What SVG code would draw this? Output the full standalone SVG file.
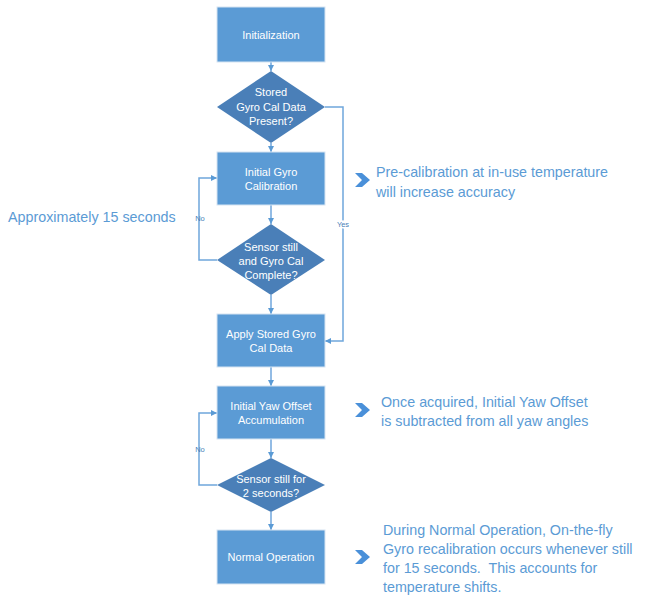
<svg xmlns="http://www.w3.org/2000/svg" width="654" height="598" viewBox="0 0 654 598">
<defs>
<style>
.box{fill:#5b9bd5;stroke:#d6e4f2;stroke-width:1}
.dia{fill:#4a7fb8}
.nt{font-family:"Liberation Sans",Arial,sans-serif;font-size:11px;fill:#ffffff;text-anchor:middle}
.ln{fill:none;stroke:#6fa6dc;stroke-width:1.5}
.lb{font-family:"Liberation Sans",Arial,sans-serif;font-size:7.5px;fill:#4a7fb8;text-anchor:middle}
.an{font-family:"Liberation Sans",Arial,sans-serif;font-size:14.3px;fill:#5b9bd5;white-space:pre}
.chev{fill:#4a90d9}
</style>
<marker id="ah" viewBox="0 0 10 10" refX="10" refY="5" markerWidth="6" markerHeight="6" markerUnits="userSpaceOnUse" orient="auto">
<path d="M0,0 L10,5 L0,10 z" fill="#5b9bd5"/>
</marker>
<path id="chevron" d="M0,0 L7,0 L15,7 L7,14 L0,14 L7,7 z"/>
</defs>
<rect width="654" height="598" fill="#ffffff"/>
<g id="connectors">
<path class="ln" d="M271,62 V71" marker-end="url(#ah)"/>
<path class="ln" d="M271,143 V152" marker-end="url(#ah)"/>
<path class="ln" d="M271,205 V224" marker-end="url(#ah)"/>
<path class="ln" d="M271,295 V314" marker-end="url(#ah)"/>
<path class="ln" d="M271,367 V386" marker-end="url(#ah)"/>
<path class="ln" d="M271,439 V458" marker-end="url(#ah)"/>
<path class="ln" d="M271,512 V530" marker-end="url(#ah)"/>
<path class="ln" d="M217,260 H199 V178 H217" marker-end="url(#ah)"/>
<path class="ln" d="M217,485 H199 V413 H217" marker-end="url(#ah)"/>
<path class="ln" d="M325,107 H343 V341 H325" marker-end="url(#ah)"/>
<text class="lb" x="200" y="221">No</text>
<text class="lb" x="200" y="452">No</text>
<text class="lb" x="343" y="227" style="fill:#4a7fb8;paint-order:stroke;stroke:#ffffff;stroke-width:3px">Yes</text>
</g>
<g id="n1"><rect class="box" x="217" y="7" width="108" height="55"/><text class="nt" x="271" y="39">Initialization</text></g>
<g id="n2"><path class="dia" d="M271,71 L325,107 L271,143 L217,107 z"/><text class="nt" x="271" y="96">Stored</text><text class="nt" x="271" y="111">Gyro Cal Data</text><text class="nt" x="271" y="125">Present?</text></g>
<g id="n3"><rect class="box" x="217" y="152" width="108" height="53"/><text class="nt" x="271" y="176">Initial Gyro</text><text class="nt" x="271" y="190">Calibration</text></g>
<g id="n4"><path class="dia" d="M271,224 L325,260 L271,295 L217,260 z"/><text class="nt" x="271" y="251">Sensor still</text><text class="nt" x="271" y="265">and Gyro Cal</text><text class="nt" x="271" y="279">Complete?</text></g>
<g id="n5"><rect class="box" x="217" y="314" width="108" height="53"/><text class="nt" x="271" y="338">Apply Stored Gyro</text><text class="nt" x="271" y="352">Cal Data</text></g>
<g id="n6"><rect class="box" x="217" y="386" width="108" height="53"/><text class="nt" x="271" y="410">Initial Yaw Offset</text><text class="nt" x="271" y="424">Accumulation</text></g>
<g id="n7"><path class="dia" d="M271,458 L325,485 L271,512 L217,485 z"/><text class="nt" x="271" y="483">Sensor still for</text><text class="nt" x="271" y="497">2 seconds?</text></g>
<g id="n8"><rect class="box" x="217" y="530" width="108" height="54"/><text class="nt" x="271" y="561">Normal Operation</text></g>
<g id="notes">
<use href="#chevron" class="chev" x="355" y="173"/>
<use href="#chevron" class="chev" x="355" y="403"/>
<use href="#chevron" class="chev" x="355" y="550"/>
<text class="an" x="376" y="177">Pre-calibration at in-use temperature</text>
<text class="an" x="376" y="197">will increase accuracy</text>
<text class="an" x="381" y="407">Once acquired, Initial Yaw Offset</text>
<text class="an" x="381" y="426">is subtracted from all yaw angles</text>
<text class="an" x="383" y="535">During Normal Operation, On-the-fly</text>
<text class="an" x="383" y="554">Gyro recalibration occurs whenever still</text>
<text class="an" x="383" y="573">for 15 seconds.  This accounts for</text>
<text class="an" x="383" y="592">temperature shifts.</text>
<text class="an" x="8" y="222">Approximately 15 seconds</text>
</g>
</svg>
